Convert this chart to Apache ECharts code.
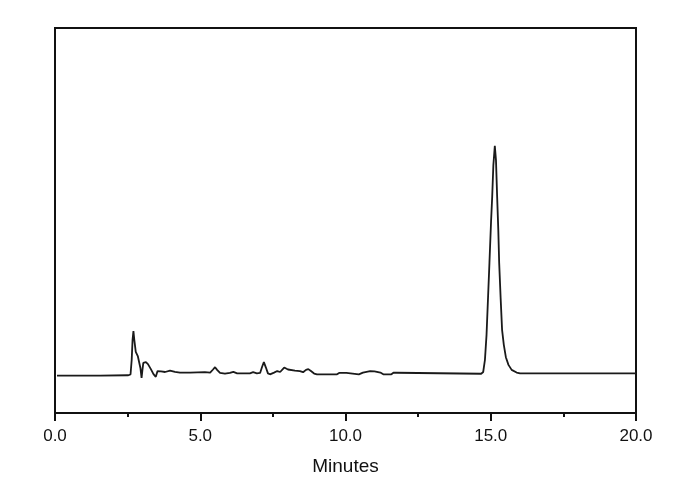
<!DOCTYPE html>
<html>
<head>
<meta charset="utf-8">
<script src="https://cdn.jsdelivr.net/npm/echarts@6/dist/echarts.min.js"></script>
<style>html,body{margin:0;padding:0;background:#fff}#c{width:690px;height:490px}</style>
</head>
<body>
<div id="c"></div>
<script>
// Retention time (minutes)
var times = [0.07,1.55,2.51,2.60,2.64,2.67,2.70,2.73,2.78,2.85,2.91,2.94,2.98,3.01,3.04,3.13,3.20,3.30,3.39,3.47,3.53,3.58,3.65,3.79,3.96,4.13,4.30,4.65,5.16,5.34,5.44,5.51,5.58,5.68,5.85,6.02,6.14,6.27,6.71,6.82,6.95,7.06,7.13,7.19,7.26,7.33,7.40,7.54,7.65,7.75,7.89,8.02,8.26,8.43,8.54,8.64,8.72,8.81,8.92,9.02,9.71,9.78,10.03,10.08,10.46,10.60,10.85,11.00,11.20,11.30,11.58,11.65,11.75,11.80,14.67,14.74,14.80,14.855,14.91,14.955,15.01,15.05,15.09,15.14,15.18,15.22,15.26,15.29,15.34,15.39,15.45,15.52,15.61,15.72,15.89,16.01,20.0];
// Detector response (arbitrary units)
var signal = [-0.3,-0.3,-0.2,0,3.8,9,11.3,9,5.9,4.8,4.3,1.7,-0.9,1.2,3.0,3.2,2.7,1.4,0.1,-0.6,0.9,1.2,0.8,0.65,1.0,0.7,0.5,0.5,0.6,0.5,1.3,1.9,1.2,0.4,0.2,0.4,0.7,0.3,0.3,0.6,0.3,0.4,2.0,3.2,1.8,0.3,0.05,0.5,0.9,0.65,1.8,1.3,1.0,0.9,0.6,1.2,1.4,0.9,0.25,0.05,0.05,0.4,0.4,0.05,0.05,0.5,0.9,0.8,0.5,0.05,0.05,0.45,0.45,0.05,0.2,0.65,3.8,10.3,20.6,29,39.6,46.2,54.4,59.4,55.7,46.2,37.5,29,19.9,11.6,7.7,4.5,2.5,1.2,0.5,0.3,0.3];
var xTicks = [0, 5, 10, 15, 20];

var pts = times.map(function(t, i){ return [t, signal[i]]; });
var chart = echarts.init(document.getElementById('c'));
chart.setOption({
  animation: false,
  grid: {left: 55, right: 54, top: 28, bottom: 77, show: true, borderColor: '#111', borderWidth: 2, backgroundColor: 'transparent'},
  xAxis: {
    type: 'value', min: xTicks[0], max: xTicks[xTicks.length-1], interval: 5,
    name: 'Minutes', nameLocation: 'middle', nameGap: 44,
    nameTextStyle: {fontFamily: 'Liberation Sans', fontSize: 19, color: '#111'},
    axisLine: {show: true, onZero: false, lineStyle: {color: '#111', width: 2}},
    axisTick: {show: true, length: 8, lineStyle: {color: '#111', width: 2}},
    minorTick: {show: true, splitNumber: 2, length: 4, lineStyle: {color: '#111', width: 2}},
    splitLine: {show: false},
    axisLabel: {margin: 15, fontFamily: 'Liberation Sans', fontSize: 17, color: '#111', showMinLabel: true, showMaxLabel: true,
      formatter: function(v){ return v.toFixed(1); }}
  },
  yAxis: {
    type: 'value', min: -10, max: 90,
    axisLine: {show: true, lineStyle: {color: '#111', width: 2}},
    axisTick: {show: false}, axisLabel: {show: false}, splitLine: {show: false}
  },
  series: [{
    type: 'line', data: pts, showSymbol: false, smooth: false,
    lineStyle: {color: '#1a1a1a', width: 1.8}
  }]
});
</script>
</body>
</html>
